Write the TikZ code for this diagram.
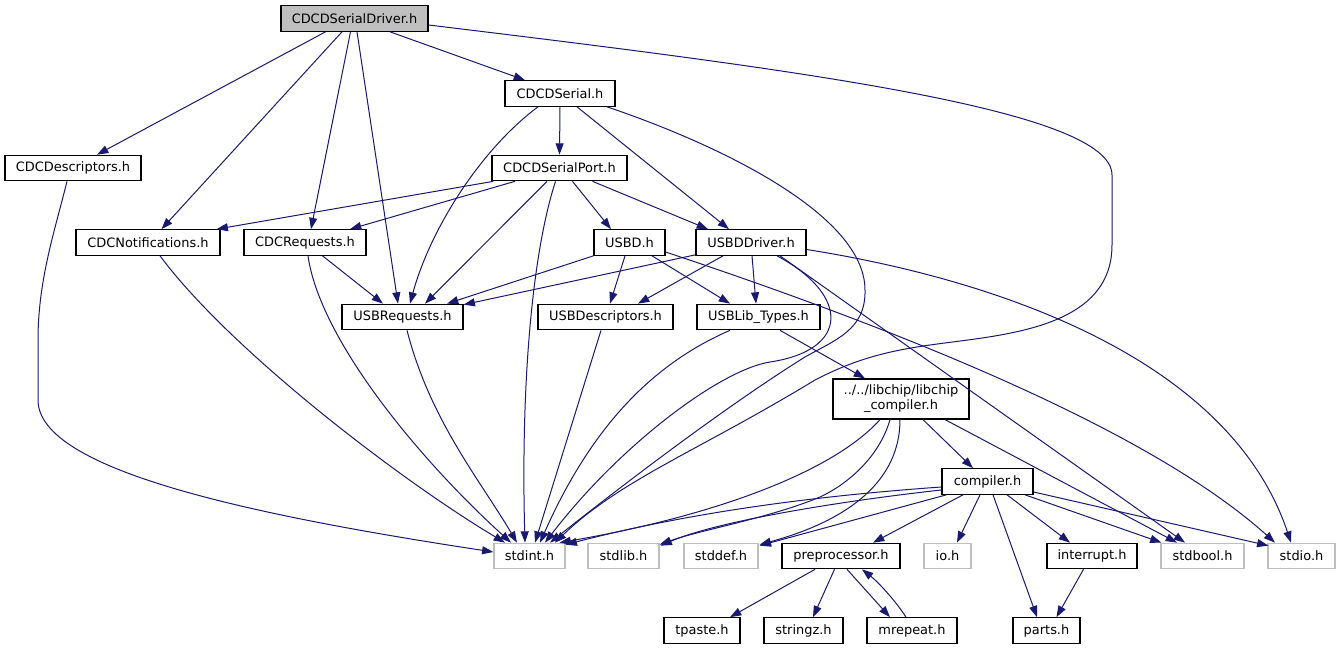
\documentclass[tikz,border=0pt]{standalone}
\usepackage{fontspec}
\setmainfont{DejaVu Sans}
\usetikzlibrary{arrows.meta,calc}
\definecolor{edgec}{HTML}{191970}
\definecolor{sysc}{HTML}{BFBFBF}
\definecolor{rootc}{HTML}{BFBFBF}
\begin{document}
\begin{tikzpicture}[x=0.75pt,y=-0.75pt,
  box/.style={draw=black,line width=0.9pt,inner sep=0pt,minimum height=19.1pt,align=center,font=\fontsize{9.7pt}{11.25pt}\selectfont},
  sys/.style={box,draw=sysc},
  rootbox/.style={box,fill=rootc},
  dep/.style={draw=edgec,line width=0.75pt,-{Triangle[length=8.5pt,width=6pt]},color=edgec}]
\useasboundingbox (0,0) rectangle (1340,649);
% nodes
\node[rootbox,minimum width=110.25pt] (root) at (354.5,18.5) {CDCDSerialDriver.h};
\node[box,minimum width=82.5pt] (serial) at (560,93.5) {CDCDSerial.h};
\node[box,minimum width=102pt] (desc) at (73,168) {CDCDescriptors.h};
\node[box,minimum width=101.25pt] (port) at (559.5,168) {CDCDSerialPort.h};
\node[box,minimum width=108pt] (notif) at (148,242.5) {CDCNotifications.h};
\node[box,minimum width=91.5pt] (req) at (305,242.5) {CDCRequests.h};
\node[box,minimum width=53.25pt] (usbd) at (629.5,242.5) {USBD.h};
\node[box,minimum width=82.5pt] (drv) at (751,242.5) {USBDDriver.h};
\node[box,minimum width=90.75pt] (usbreq) at (402.5,317) {USBRequests.h};
\node[box,minimum width=101.25pt] (usbdesc) at (605.5,317) {USBDescriptors.h};
\node[box,minimum width=92.25pt] (types) at (758.5,317) {USBLib\_Types.h};
\node[box,minimum width=102pt,minimum height=30pt] (libchip) at (901,399) {../../libchip/libchip\\\_compiler.h};
\node[box,minimum width=68.25pt] (comp) at (987.5,481.5) {compiler.h};
\node[sys,minimum width=53.25pt] (stdint) at (529.5,556) {stdint.h};
\node[sys,minimum width=53.25pt] (stdlib) at (623.5,556) {stdlib.h};
\node[sys,minimum width=55.5pt] (stddef) at (721,556) {stddef.h};
\node[box,minimum width=88.5pt] (prep) at (841,556) {preprocessor.h};
\node[sys,minimum width=35.25pt] (io) at (947.5,556) {io.h};
\node[box,minimum width=67.5pt] (intr) at (1092,556) {interrupt.h};
\node[sys,minimum width=62.25pt] (stdbool) at (1202.5,556) {stdbool.h};
\node[sys,minimum width=50.25pt] (stdio) at (1301.5,556) {stdio.h};
\node[box,minimum width=57pt] (tpaste) at (702,630.5) {tpaste.h};
\node[box,minimum width=59.25pt] (stringz) at (803.5,630.5) {stringz.h};
\node[box,minimum width=67.5pt] (mrepeat) at (912,630.5) {mrepeat.h};
\node[box,minimum width=50.25pt] (parts) at (1046.5,630.5) {parts.h};
% edges from root
\draw[dep] ($(root.south)+(-29,0)$) -- ($(desc.north)+(24,0)$);
\draw[dep] ($(root.south)+(-12.5,0)$) -- ($(notif.north)+(13.5,0)$);
\draw[dep] ($(root.south)+(-4,0)$) -- ($(req.north)+(6,0)$);
\draw[dep] ($(root.south)+(2.5,0)$) -- ($(usbreq.north)+(-4.5,0)$);
\draw[dep] ($(root.south)+(35.5,0)$) -- ($(serial.north)+(-35,0)$);
\draw[dep] ($(root.east)+(0,6.5)$) .. controls (800,70) and (1112,110) .. (1112,175) -- (1112,245)
  .. controls (1112,330) and (1000,335) .. (930,345) .. controls (880,352) and (850,362) .. (815,380)
  .. controls (700,450) and (620,480) .. ($(stdint.north)+(25.5,0)$);
% CDCDescriptors
\draw[dep] ($(desc.south)+(-6,0)$) .. controls (55,230) and (38,280) .. (38,340) -- (38,400)
  .. controls (38,470) and (250,515) .. ($(stdint.west)+(0,-4)$);
% CDCDSerial
\draw[dep] (serial.south) -- (port.north);
\draw[dep] ($(serial.south)+(-22,0)$) .. controls (480,150) and (430,230) .. ($(usbreq.north)+(7.5,0)$);
\draw[dep] ($(serial.south)+(17,0)$) -- ($(drv.north)+(-22,0)$);
\draw[dep] ($(serial.south)+(47,0)$) .. controls (720,145) and (865,215) .. (865,290)
  .. controls (866,330) and (835,340) .. (805,357) .. controls (720,410) and (610,495) .. ($(stdint.north)+(20.5,0)$);
% CDCDSerialPort
\draw[dep] ($(port.south west)+(2,0)$) -- ($(notif.north east)+(-4,0)$);
\draw[dep] ($(port.south)+(-44.5,0)$) -- ($(req.north)+(45,0)$);
\draw[dep] ($(port.south)+(-12.5,0)$) -- ($(usbreq.north)+(22.5,0)$);
\draw[dep] ($(port.south)+(-4,0)$) .. controls (530,260) and (521,400) .. ($(stdint.north)+(-4.5,0)$);
\draw[dep] ($(port.south)+(13,0)$) -- ($(usbd.north)+(-18.5,0)$);
\draw[dep] ($(port.south)+(33,0)$) -- ($(drv.north)+(-43,0)$);
% CDCNotifications, CDCRequests, USBRequests
\draw[dep] ($(notif.south)+(12,0)$) .. controls (230,350) and (400,480) .. ($(stdint.north)+(-24.5,0)$);
\draw[dep] ($(req.south)+(17.5,0)$) -- ($(usbreq.north)+(-19.5,0)$);
\draw[dep] ($(req.south)+(3,0)$) .. controls (320,340) and (420,460) .. ($(stdint.north)+(-18.5,0)$);
\draw[dep] ($(usbreq.south)+(4.5,0)$) .. controls (430,420) and (480,480) .. ($(stdint.north)+(-12.5,0)$);
% USBD
\draw[dep] (usbd.south west) -- ($(usbreq.north)+(44.5,0)$);
\draw[dep] ($(usbd.south)+(-4.5,0)$) -- ($(usbdesc.north)+(4.5,0)$);
\draw[dep] ($(usbd.south)+(22.5,0)$) -- ($(types.north)+(-28.5,0)$);
\draw[dep] ($(usbd.east)+(0,9.5)$) .. controls (900,330) and (1150,430) .. ($(stdio.north)+(-26.5,0)$);
% USBDDriver
\draw[dep] ($(drv.south west)+(0,-1)$) -- ($(usbreq.north east)+(0,1)$);
\draw[dep] ($(drv.south)+(-28,0)$) -- ($(usbdesc.north)+(32.5,0)$);
\draw[dep] ($(drv.south)+(1,0)$) -- ($(types.north)+(-2.5,0)$);
\draw[dep] ($(drv.south)+(26,0)$) .. controls (850,295) and (850,350) .. (770,362)
  .. controls (720,370) and (620,445) .. ($(stdint.north)+(15.5,0)$);
\draw[dep] ($(drv.south)+(29,0)$) -- ($(stdbool.north)+(-17.5,0)$);
\draw[dep] ($(drv.east)+(0,7)$) .. controls (1000,280) and (1230,360) .. ($(stdio.north)+(-10.5,0)$);
% USBDescriptors, USBLib_Types
\draw[dep] ($(usbdesc.south)+(-4.5,0)$) -- ($(stdint.north)+(5.5,0)$);
\draw[dep] ($(types.south)+(-28.5,0)$) .. controls (650,365) and (590,430) .. ($(stdint.north)+(10.5,0)$);
\draw[dep] ($(types.south)+(21.5,0)$) -- ($(libchip.north)+(-36,0)$);
% libchip_compiler
\draw[dep] ($(libchip.south)+(-21,0)$) .. controls (835,470) and (720,515) .. ($(stdint.north)+(30,0)$);
\draw[dep] ($(libchip.south)+(-11,0)$) .. controls (880,455) and (850,483) .. (820,497)
  .. controls (770,518) and (700,530) .. ($(stdlib.north east)+(0,2)$);
\draw[dep] ($(libchip.south)+(-1,0)$) .. controls (900,480) and (850,520) .. ($(stddef.north east)+(1,2)$);
\draw[dep] ($(libchip.south)+(22,0)$) -- ($(comp.north)+(-14.5,0)$);
\draw[dep] ($(libchip.south)+(44,0)$) -- ($(stdbool.north)+(-25.5,0)$);
% compiler
\draw[dep] ($(comp.west)+(0,5.5)$) .. controls (800,497) and (680,515) .. ($(stdint.north east)+(0,2)$);
\draw[dep] ($(comp.west)+(0,8.5)$) .. controls (850,500) and (720,520) .. ($(stdlib.north east)+(1,3)$);
\draw[dep] ($(comp.south west)+(5,0)$) -- ($(stddef.north east)+(1,3)$);
\draw[dep] ($(comp.south)+(-24.5,0)$) -- ($(prep.north)+(32,0)$);
\draw[dep] ($(comp.south)+(-7.5,0)$) -- ($(io.north)+(9.5,0)$);
\draw[dep] ($(comp.south)+(5.5,0)$) -- ($(parts.north)+(-9.5,0)$);
\draw[dep] ($(comp.south)+(19.5,0)$) -- ($(intr.north)+(-22,0)$);
\draw[dep] ($(comp.south)+(37.5,0)$) -- ($(stdbool.north)+(-41,0)$);
\draw[dep] ($(comp.east)+(0,10.5)$) -- ($(stdio.north west)+(1,3)$);
% preprocessor
\draw[dep] ($(prep.south)+(-26,0)$) -- ($(tpaste.north)+(28,0)$);
\draw[dep] ($(prep.south)+(-6.5,0)$) -- ($(stringz.north)+(9.5,0)$);
\draw[dep] ($(prep.south)+(6,0)$) -- ($(mrepeat.north)+(-22,0)$);
\draw[dep] ($(mrepeat.north)+(-6,0)$) .. controls (895,600) and (878,582) .. ($(prep.south)+(21,0)$);
% interrupt
\draw[dep] ($(intr.south)+(-8.5,0)$) -- ($(parts.north)+(10,0)$);
\end{tikzpicture}
\end{document}
